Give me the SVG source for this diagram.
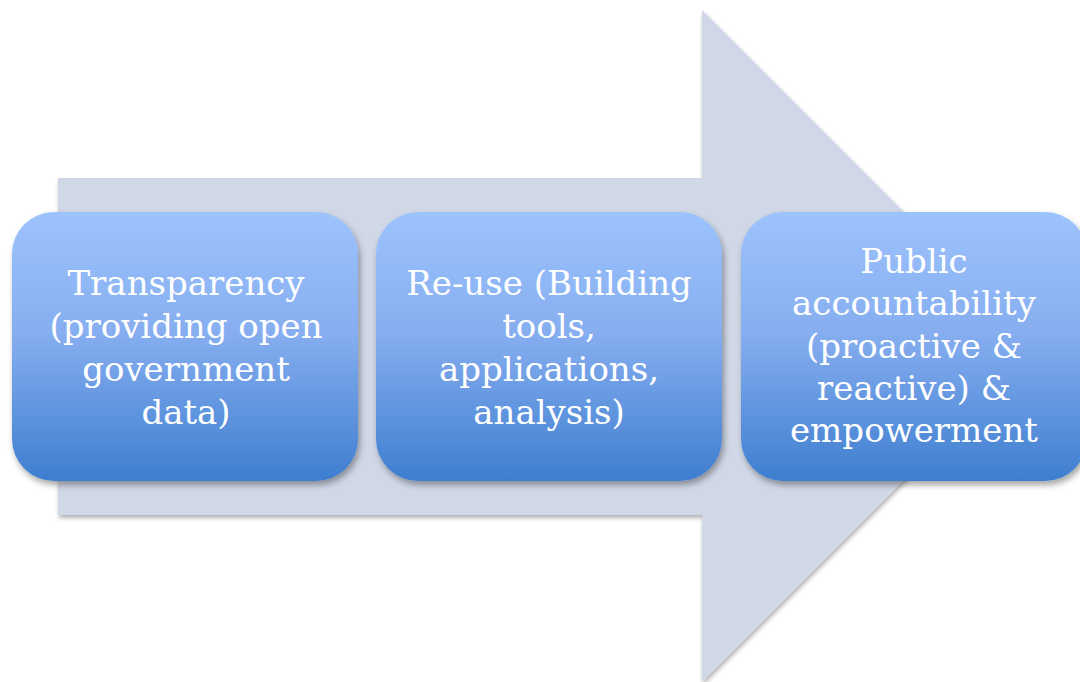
<svg xmlns="http://www.w3.org/2000/svg" width="1080" height="682" viewBox="0 0 1080 682">
<defs>
<linearGradient id="g" x1="0" y1="0" x2="0" y2="1">
<stop offset="0" stop-color="#9dc3fd"/>
<stop offset="0.45" stop-color="#86aef0"/>
<stop offset="1" stop-color="#3e7ecf"/>
</linearGradient>
<filter id="sh" x="-10%" y="-10%" width="125%" height="130%">
<feDropShadow dx="2" dy="4" stdDeviation="3" flood-color="#000" flood-opacity="0.35"/>
</filter>
<filter id="sha" x="-5%" y="-5%" width="115%" height="115%">
<feDropShadow dx="1" dy="3" stdDeviation="2" flood-color="#000" flood-opacity="0.3"/>
</filter>
</defs>
<style>
.box{fill:url(#g);filter:url(#sh);}
.t{font-family:"DejaVu Serif","Liberation Serif",serif;font-size:34px;fill:#fff;text-anchor:middle;}
</style>
<rect width="1080" height="682" fill="#fff"/>
<g id="arrow">
<polygon points="58,178 702,178 702,10 1038,346 702,682 702,515 58,515" fill="#d0d7e6" filter="url(#sha)"/>
</g>
<g id="connectors"></g>
<g id="node1">
<rect class="box" x="12" y="212" width="346" height="269" rx="42"/>
<text class="t" x="186"><tspan x="186" y="295">Transparency</tspan><tspan x="186" y="338">(providing open</tspan><tspan x="186" y="381">government</tspan><tspan x="186" y="424">data)</tspan></text>
</g>
<g id="node2">
<rect class="box" x="376" y="212" width="346" height="269" rx="42"/>
<text class="t" x="549"><tspan x="549" y="295">Re-use (Building</tspan><tspan x="549" y="338">tools,</tspan><tspan x="549" y="381">applications,</tspan><tspan x="549" y="424">analysis)</tspan></text>
</g>
<g id="node3">
<rect class="box" x="741" y="212" width="346" height="269" rx="42"/>
<text class="t" x="914"><tspan x="914" y="273">Public</tspan><tspan x="914" y="315">accountability</tspan><tspan x="914" y="358">(proactive &amp;</tspan><tspan x="914" y="400">reactive) &amp;</tspan><tspan x="914" y="442">empowerment</tspan></text>
</g>
</svg>
